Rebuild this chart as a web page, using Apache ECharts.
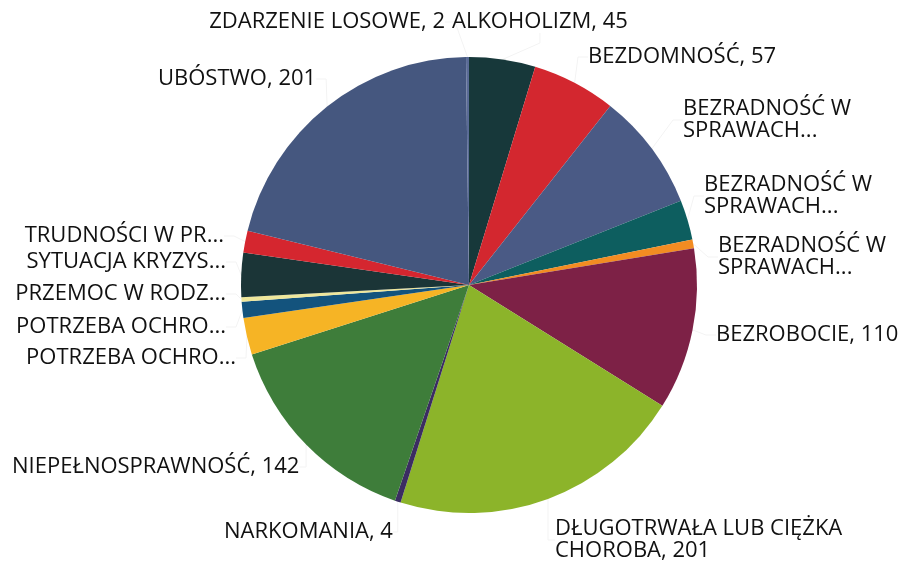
<!DOCTYPE html>
<html>
<head>
<meta charset="utf-8">
<script src="https://cdn.jsdelivr.net/npm/echarts@6/dist/echarts.min.js"></script>
<style>
  html, body { margin: 0; padding: 0; background: #fff; }
  #ec { width: 904px; height: 562px; }
</style>
</head>
<body>
<div id="ec"></div>
<script>
// kategorie (kolejnosc jak w arkuszu, zgodnie z ruchem wskazowek od godz. 12)
var categories = [
  'ALKOHOLIZM',
  'BEZDOMNOŚĆ',
  'BEZRADNOŚĆ W\nSPRAWACH...',
  'BEZRADNOŚĆ W\nSPRAWACH...',
  'BEZRADNOŚĆ W\nSPRAWACH...',
  'BEZROBOCIE',
  'DŁUGOTRWAŁA LUB CIĘŻKA\nCHOROBA',
  'NARKOMANIA',
  'NIEPEŁNOSPRAWNOŚĆ',
  'POTRZEBA OCHRO...',
  'POTRZEBA OCHRO...',
  'PRZEMOC W RODZ...',
  'SYTUACJA KRYZYS...',
  'TRUDNOŚCI W PR...',
  'UBÓSTWO',
  'ZDARZENIE LOSOWE'
]
var values = [45, 57, 80, 27, 6, 110, 201, 4, 142, 25, 11, 3, 30, 15, 201, 2]
// czy pokazywac wartosc w etykiecie (skrocone nazwy jej nie maja)
var showValue = [1, 1, 0, 0, 0, 1, 1, 1, 1, 0, 0, 0, 0, 0, 1, 1]

var colors = ['#17383a', '#d3272f', '#4a5a85', '#0d5e5f', '#f28c22', '#7d2146',
  '#8cb42a', '#3b2d62', '#3e7d3a', '#f6b425', '#13537d', '#efe79b',
  '#1b3537', '#d5262f', '#45577f', '#5a6b96']

// polozenie etykiet [x, y, wyrownanie]
var labelPos = [
  [452, 22, 'left'], [588, 57, 'left'], [683, 120, 'left'], [704, 196, 'left'],
  [718, 257, 'left'], [716, 335, 'left'], [555, 540, 'left'], [224, 532, 'left'],
  [12, 467, 'left'], [236, 358, 'right'], [226, 327, 'right'], [226, 294, 'right'],
  [226, 262, 'right'], [224, 236, 'right'], [158, 79, 'left'], [445, 22, 'right']
]

var ydata = categories.map(function (c, i) {
  return { name: c, value: values[i], itemStyle: { color: colors[i] } }
})

var myEchart = echarts.init(document.getElementById('ec'))
myEchart.setOption({
  animation: false,
  series: [
    {
      type: 'pie',
      center: [469, 285],
      radius: 228,
      startAngle: 90,
      clockwise: true,
      avoidLabelOverlap: false,
      itemStyle: { borderWidth: 0 },
      label: {
        show: true,
        position: 'outside',
        color: '#111',
        fontFamily: 'Open Sans',
        fontSize: 22,
        lineHeight: 22,
        formatter: function (p) {
          return showValue[p.dataIndex] ? p.name + ', ' + p.value : p.name
        }
      },
      labelLine: {
        show: true,
        length: 10,
        length2: 10,
        lineStyle: { color: '#f3f3f3', width: 1 }
      },
      labelLayout: function (params) {
        var p = labelPos[params.dataIndex]
        return { x: p[0], y: p[1], align: p[2], verticalAlign: 'middle' }
      },
      data: ydata
    }
  ]
})
</script>
</body>
</html>
